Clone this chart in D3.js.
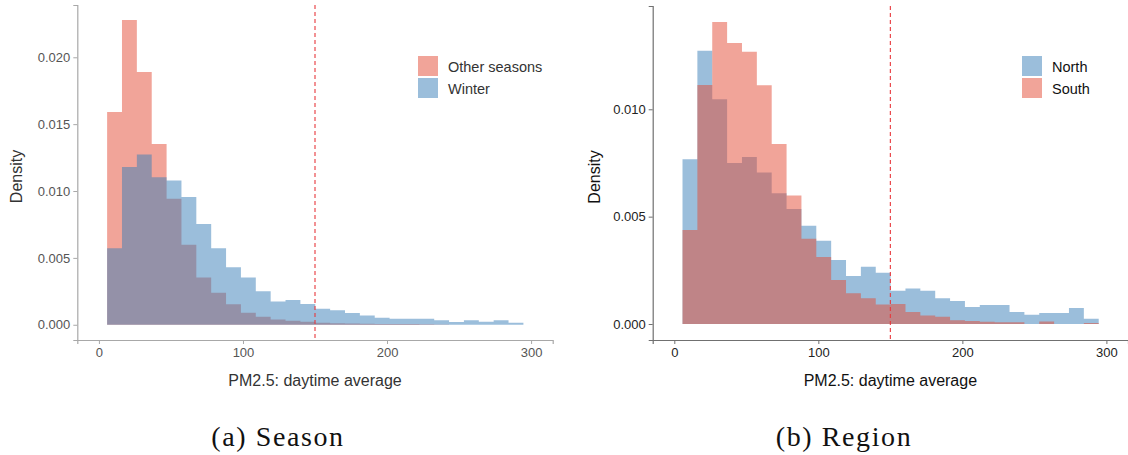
<!DOCTYPE html>
<html>
<head>
<meta charset="utf-8">
<script src="https://cdn.jsdelivr.net/npm/d3@7"></script>
<style>
  html, body { margin: 0; padding: 0; background: #fff; }
  svg { display: block; }
  text { font-family: "Liberation Sans", Arial, sans-serif; }
</style>
</head>
<body>
<svg id="chart" width="1128" height="455"></svg>
<script>
// Histogram bins (PM2.5 daytime average): 28 bins of equal width
const binStart = 5.7;
const binWidth = 10.32;
const xTicks = [0, 100, 200, 300];
const threshold = 150;

// Panel (a): season, density per bin
const seasonNames = ["Other seasons", "Winter"];
const otherSeasons = [0.0159, 0.02278, 0.0189, 0.01352, 0.00943, 0.00598, 0.00353, 0.0024, 0.00153, 0.0009,
  0.0006, 0.0004, 0.0003, 0.00023, 0.00015, 0.00012, 0.0001, 0.00008, 0.00005, 0.00005,
  0.00005, 0.00003, 0.00002, 0, 0, 0, 0, 0];
const winter = [0.00573, 0.0118, 0.01273, 0.01103, 0.01078, 0.00955, 0.00753, 0.00573, 0.0043, 0.00353,
  0.0025, 0.00173, 0.00185, 0.00155, 0.0012, 0.00108, 0.00087, 0.0007, 0.00052, 0.00045,
  0.00045, 0.00045, 0.00033, 0.0002, 0.00033, 0.00022, 0.00033, 0.00015];
const seasonYTicks = [0, 0.005, 0.010, 0.015, 0.020];

// Panel (b): region, density per bin
const regionNames = ["North", "South"];
const north = [0.00767, 0.01273, 0.01047, 0.0075, 0.00778, 0.00705, 0.00609, 0.00536, 0.00458, 0.00388,
  0.00298, 0.00224, 0.00267, 0.00239, 0.00155, 0.00165, 0.00155, 0.0012, 0.00107, 0.00079,
  0.00088, 0.00088, 0.00056, 0.00043, 0.00051, 0.00051, 0.00075, 0.00025];
const south = [0.00438, 0.01113, 0.01407, 0.01309, 0.01268, 0.01112, 0.00838, 0.00598, 0.00397, 0.00312,
  0.00205, 0.00143, 0.0012, 0.00091, 0.00093, 0.00056, 0.0004, 0.00034, 0.00017, 0.00014,
  0.00011, 0.00008, 0.00008, 0, 0.00012, 0, 0, 0.00005];
const regionYTicks = [0, 0.005, 0.010];

const RED = "#E34A33", BLUE = "#377EB8", ALPHA = 0.5;

const svg = d3.select("#chart");

function panel(cfg) {
  const g = svg.append("g");
  const x = d3.scaleLinear().domain([-15, 315]).range([cfg.left, cfg.right]);
  const y = d3.scaleLinear().domain(cfg.yDomain).range([cfg.bottom, cfg.top]);

  // histogram series as stepped areas (drawn in the listed order)
  cfg.series.forEach(s => {
    const pts = s.values.map((v, i) => [binStart + i * binWidth, v]);
    pts.push([binStart + s.values.length * binWidth, s.values[s.values.length - 1]]);
    const area = d3.area()
      .x(d => x(d[0]))
      .y0(y(0))
      .y1(d => y(d[1]))
      .curve(d3.curveStepAfter);
    g.append("path").attr("d", area(pts))
      .attr("fill", s.color).attr("fill-opacity", ALPHA);
  });

  // threshold line
  g.append("line")
    .attr("x1", x(threshold)).attr("x2", x(threshold))
    .attr("y1", cfg.top).attr("y2", cfg.bottom)
    .attr("stroke", "#e8383c").attr("stroke-width", 1.1)
    .attr("stroke-dasharray", "4,3");

  // axes
  const xAxis = g.append("g").attr("transform", `translate(0,${cfg.bottom})`)
    .call(d3.axisBottom(x).tickValues(xTicks).tickSize(4).tickPadding(4));
  const yAxis = g.append("g").attr("transform", `translate(${cfg.left},0)`)
    .call(d3.axisLeft(y).tickValues(cfg.yTicks).tickFormat(d3.format(".3f")).tickSize(4).tickPadding(3));
  [xAxis, yAxis].forEach(a => {
    a.select(".domain").attr("stroke", cfg.axisColor).attr("stroke-width", 1.2);
    a.selectAll(".tick line").attr("stroke", cfg.axisColor);
    a.selectAll(".tick text").attr("fill", cfg.labelColor)
      .style("font-size", "13px").style("font-family", "Liberation Sans, Arial, sans-serif");
  });

  // axis titles
  g.append("text")
    .attr("x", (cfg.left + cfg.right) / 2).attr("y", 386)
    .attr("text-anchor", "middle").attr("fill", cfg.titleColor)
    .style("font-size", "16px").text("PM2.5: daytime average");
  g.append("text")
    .attr("transform", `translate(${cfg.yTitleX},${(cfg.top + cfg.bottom) / 2 + 4}) rotate(-90)`)
    .attr("text-anchor", "middle").attr("fill", cfg.titleColor)
    .style("font-size", "16px").text("Density");

  // legend
  const lg = g.append("g").attr("transform", `translate(${cfg.legendX},${cfg.legendY})`);
  cfg.legend.forEach((s, i) => {
    lg.append("rect").attr("x", 0).attr("y", i * 22).attr("width", 20).attr("height", 20)
      .attr("fill", s.color).attr("fill-opacity", ALPHA);
    lg.append("text").attr("x", 30).attr("y", i * 22 + 15.5)
      .attr("fill", cfg.titleColor).style("font-size", "14.5px").text(s.name);
  });

  // caption
  svg.append("text")
    .attr("x", cfg.captionX).attr("y", 446)
    .attr("text-anchor", "middle").attr("fill", "#111")
    .style("font-family", "'Liberation Serif', 'DejaVu Serif', serif")
    .style("font-size", "28px").style("letter-spacing", "1.6px").text(cfg.caption);
}

panel({
  left: 77.3, right: 552.7, top: 5, bottom: 340,
  yDomain: [-0.00114, 0.02391], yTicks: seasonYTicks,
  series: [{ values: otherSeasons, color: RED }, { values: winter, color: BLUE }],
  legend: [{ name: seasonNames[0], color: RED }, { name: seasonNames[1], color: BLUE }],
  legendX: 418, legendY: 56,
  axisColor: "#a8a8a8", labelColor: "#555", titleColor: "#333",
  yTitleX: 22, caption: "(a) Season", captionX: 278
});

panel({
  left: 652.7, right: 1128, top: 6, bottom: 340,
  yDomain: [-0.000745, 0.01481], yTicks: regionYTicks,
  series: [{ values: north, color: BLUE }, { values: south, color: RED }],
  legend: [{ name: regionNames[0], color: BLUE }, { name: regionNames[1], color: RED }],
  legendX: 1022, legendY: 56,
  axisColor: "#707070", labelColor: "#222", titleColor: "#111",
  yTitleX: 600, caption: "(b) Region", captionX: 844
});
</script>
</body>
</html>
